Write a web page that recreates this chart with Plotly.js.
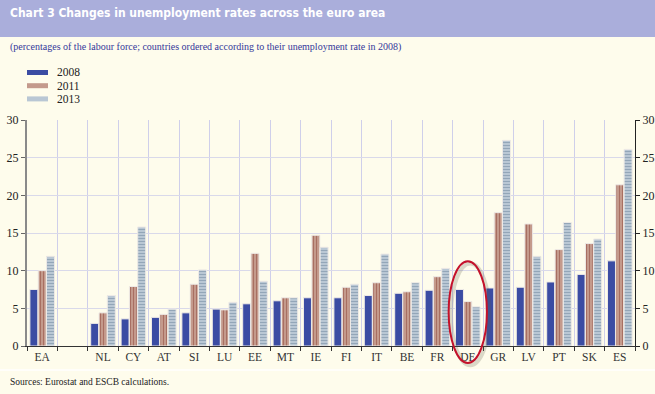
<!DOCTYPE html>
<html>
<head>
<meta charset="utf-8">
<script src="https://cdn.plot.ly/plotly-3.0.1.min.js"></script>
<style>
html,body{margin:0;padding:0;background:#fefcec;}
#chart{width:655px;height:394px;}
</style>
</head>
<body>
<div id="chart"></div>
<script>
// ---- data ----
const countries = ['EA', ' ', 'NL', 'CY', 'AT', 'SI', 'LU', 'EE', 'MT', 'IE', 'FI', 'IT', 'BE', 'FR', 'DE', 'GR', 'LV', 'PT', 'SK', 'ES'];
const rate2008 = [7.5, null, 3.0, 3.6, 3.8, 4.4, 4.9, 5.6, 6.0, 6.4, 6.4, 6.7, 7.0, 7.4, 7.5, 7.7, 7.8, 8.5, 9.5, 11.3];
const rate2011 = [10.0, null, 4.4, 7.9, 4.2, 8.2, 4.8, 12.3, 6.4, 14.7, 7.8, 8.4, 7.2, 9.2, 5.9, 17.7, 16.2, 12.8, 13.6, 21.4];
const rate2013 = [11.9, null, 6.7, 15.8, 4.9, 10.1, 5.8, 8.6, 6.4, 13.1, 8.2, 12.2, 8.4, 10.3, 5.2, 27.3, 11.9, 16.4, 14.2, 26.1];
const seriesNames = ['2008', '2011', '2013'];
const highlighted = 'DE';
const yTicks = [0, 5, 10, 15, 20, 25, 30];

// ---- styles ----
const serif = 'Liberation Serif, Times New Roman, serif';
const outline = {color: '#eeeae6', width: 1};
const c2008 = '#3b4ca3', c2011 = '#c49a8c', c2013 = '#b9c7d4';
const traces = [
  {name: seriesNames[0], y: rate2008, marker: {color: c2008, line: outline}},
  {name: seriesNames[1], y: rate2011, marker: {color: c2011, line: outline,
      pattern: {shape: '|', bgcolor: c2011, fgcolor: '#a56a5d', size: 3, solidity: 0.3}}},
  {name: seriesNames[2], y: rate2013, marker: {color: c2013, line: outline,
      pattern: {shape: '-', bgcolor: c2013, fgcolor: '#93a6b8', size: 3, solidity: 0.35}}}
].map(t => Object.assign({type: 'bar', x: countries, hoverinfo: 'x+y+name', showlegend: false}, t));

// ellipse around highlighted category (paper coords derived from its index)
const n = countries.length;
const hi = countries.indexOf(highlighted);
const cx = (hi + 0.5) / n, hw = 0.63 / n;
const ellY0 = -0.075, ellY1 = 0.375;

const legendColors = [c2008, c2011, c2013];
const legendShapes = [], legendAnn = [];
seriesNames.forEach((s, i) => {
  const yc = (394 - (72.5 + i * 13.2) - 48) / 226;
  legendShapes.push({type: 'rect', xref: 'paper', yref: 'paper',
    x0: 0, x1: 21 / 608, y0: yc - 2.5 / 226, y1: yc + 2.5 / 226,
    fillcolor: legendColors[i], line: {width: 0}});
  legendAnn.push({xref: 'paper', yref: 'paper', x: 28 / 608, xanchor: 'left',
    y: yc, yanchor: 'middle', showarrow: false,
    text: s, font: {family: serif, size: 11.5, color: '#222'}});
});

const layout = {
  width: 655, height: 394,
  margin: {l: 27, r: 20, t: 120, b: 48},
  paper_bgcolor: '#fefcec', plot_bgcolor: '#fefcec',
  barmode: 'group', bargap: 0.18, bargroupgap: 0.04,
  showlegend: false,
  xaxis: {type: 'category', tickson: 'boundaries', ticks: 'outside', ticklen: 4, tickcolor: '#333',
    showgrid: true, gridcolor: '#cfcfea', gridwidth: 1,
    showline: true, linecolor: '#333', linewidth: 1,
    tickfont: {family: serif, size: 11.5, color: '#333'}, fixedrange: true},
  yaxis: {range: [0, 30], tickvals: yTicks, ticks: 'outside', ticklen: 4, tickcolor: '#666',
    showline: true, linecolor: '#8a8a8a', linewidth: 2, zeroline: false,
    showgrid: true, gridcolor: '#d9d9ea', gridwidth: 1,
    tickfont: {family: serif, size: 12, color: '#222'}},
  yaxis2: {range: [0, 30], tickvals: yTicks, overlaying: 'y', side: 'right', ticks: 'outside', ticklen: 4,
    tickcolor: '#222', showline: true, linecolor: '#222', linewidth: 1, showgrid: false, zeroline: false,
    tickfont: {family: serif, size: 12, color: '#222'}},
  shapes: [
    {type: 'rect', xref: 'paper', yref: 'paper', x0: -27 / 608, x1: 628 / 608,
      y0: (394 - 37 - 48) / 226, y1: (394 - 48) / 226, fillcolor: '#aaaedb', line: {width: 0}, layer: 'below'},
    {type: 'line', xref: 'paper', yref: 'paper', x0: -27 / 608, x1: 628 / 608,
      y0: (394 - 370 - 48) / 226, y1: (394 - 370 - 48) / 226, line: {color: '#ffffff', width: 1.5}},
    {type: 'circle', xref: 'paper', yref: 'paper', x0: cx - hw + 0.004, x1: cx + hw + 0.004,
      y0: ellY0 - 0.01, y1: ellY1 - 0.01, line: {color: 'rgba(90,90,70,0.22)', width: 4}},
    {type: 'circle', xref: 'paper', yref: 'paper', x0: cx - hw, x1: cx + hw,
      y0: ellY0, y1: ellY1, line: {color: '#c4122b', width: 2}}
  ].concat(legendShapes),
  annotations: [
    {xref: 'paper', yref: 'paper', x: -19 / 608, xanchor: 'left', y: (394 - 13 - 48) / 226, yanchor: 'middle',
      showarrow: false, text: '<b>Chart 3 Changes in unemployment rates across the euro area</b>',
      font: {family: 'DejaVu Sans Condensed, Liberation Sans Narrow, sans-serif', size: 12, color: '#ffffff'}},
    {xref: 'paper', yref: 'paper', x: -19 / 608, xanchor: 'left', y: (394 - 47 - 48) / 226, yanchor: 'middle',
      showarrow: false, text: '(percentages of the labour force; countries ordered according to their unemployment rate in 2008)',
      font: {family: serif, size: 10, color: '#34389a'}},
    {xref: 'paper', yref: 'paper', x: -19 / 608, xanchor: 'left', y: (394 - 382 - 48) / 226, yanchor: 'middle',
      showarrow: false, text: 'Sources: Eurostat and ESCB calculations.',
      font: {family: serif, size: 9.5, color: '#222'}}
  ].concat(legendAnn)
};

// invisible trace to activate right axis
traces.push({type: 'scatter', x: [], y: [], yaxis: 'y2', showlegend: false, hoverinfo: 'skip'});

Plotly.newPlot('chart', traces, layout, {displayModeBar: false, staticPlot: true});
</script>
</body>
</html>
